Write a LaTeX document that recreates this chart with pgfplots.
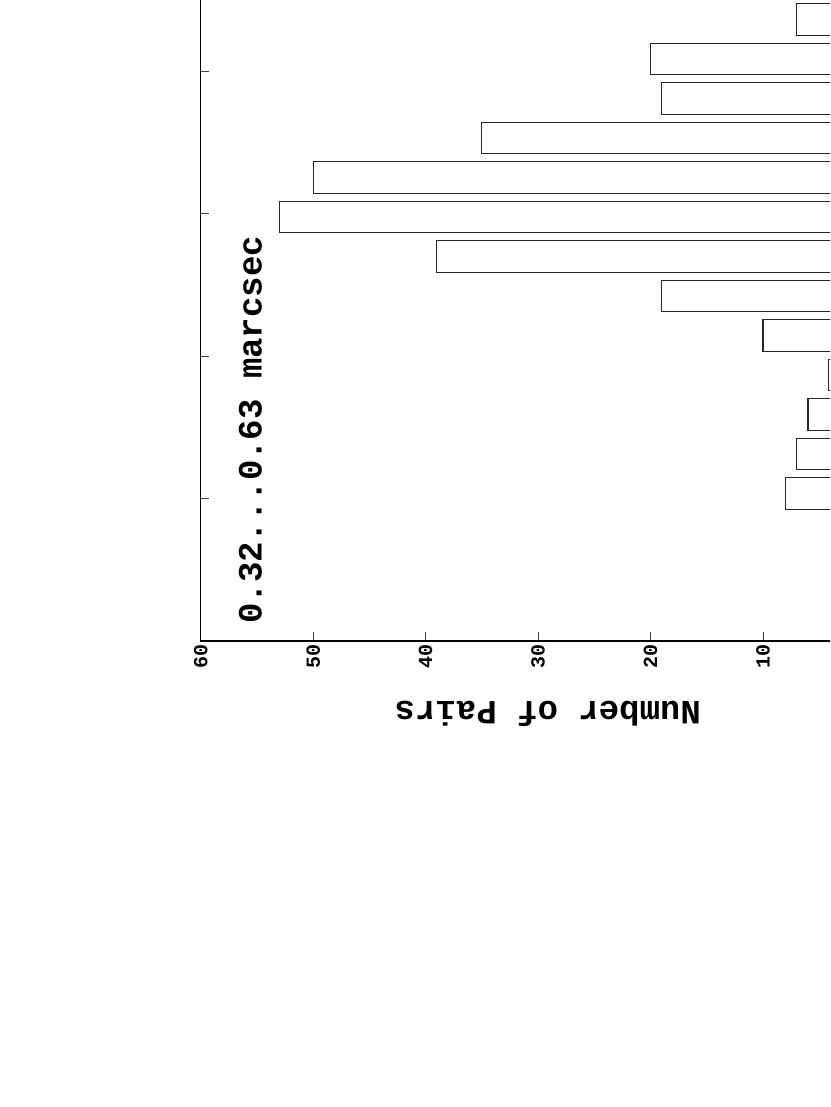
\documentclass[border=0pt]{standalone}
\usepackage{fontspec}
\setmainfont{Liberation Mono}
\usepackage{pgfplots}
\pgfplotsset{compat=1.18}

% pair counts per separation bin (bottom to top, as drawn)
\pgfplotstableread{
n     pos
8     147.5
7     187
6     226.5
4.15  266
10    305.5
19    345
39    384.5
53    424
50    463.5
35    503
19    542.5
20    582
7     621.5
}\pairs

\begin{document}
\begin{tikzpicture}[x=1pt,y=1pt]
\path[use as bounding box] (0,0) rectangle (830,1107);
\clip (0,0) rectangle (830,1107);
\begin{axis}[
    at={(200.7pt,466pt)}, anchor=south west,
    scale only axis,
    width=674.8pt, height=700pt,
    xbar, bar width=31.7pt,
    x dir=reverse,
    xmin=0, xmax=60, ymin=0, ymax=700,
    xtick={10,20,...,60},
    ytick={142,284.5,427,569},
    yticklabels={},
    axis line style={line width=1.5pt},
    tick style={line width=1pt, black!75},
    major tick length=8.5pt,
    tick align=inside,
    /pgf/number format/assume math mode=true,
    xticklabel style={rotate=90, anchor=east,
        font=\fontsize{20}{24}\selectfont\bfseries},
]
\addplot[draw=black!85, fill=white, line width=1.1pt] table[x=n, y=pos] {\pairs};
\end{axis}
\node[rotate=90, anchor=base west, inner sep=0,
      font=\fontsize{34}{40}\selectfont\bfseries] at (261.5,483) {0.32...0.63 marcsec};
\node[rotate=180, anchor=base west, inner sep=0,
      font=\fontsize{34}{40}\selectfont\bfseries] at (701,405) {Number of Pairs};
\end{tikzpicture}
\end{document}
